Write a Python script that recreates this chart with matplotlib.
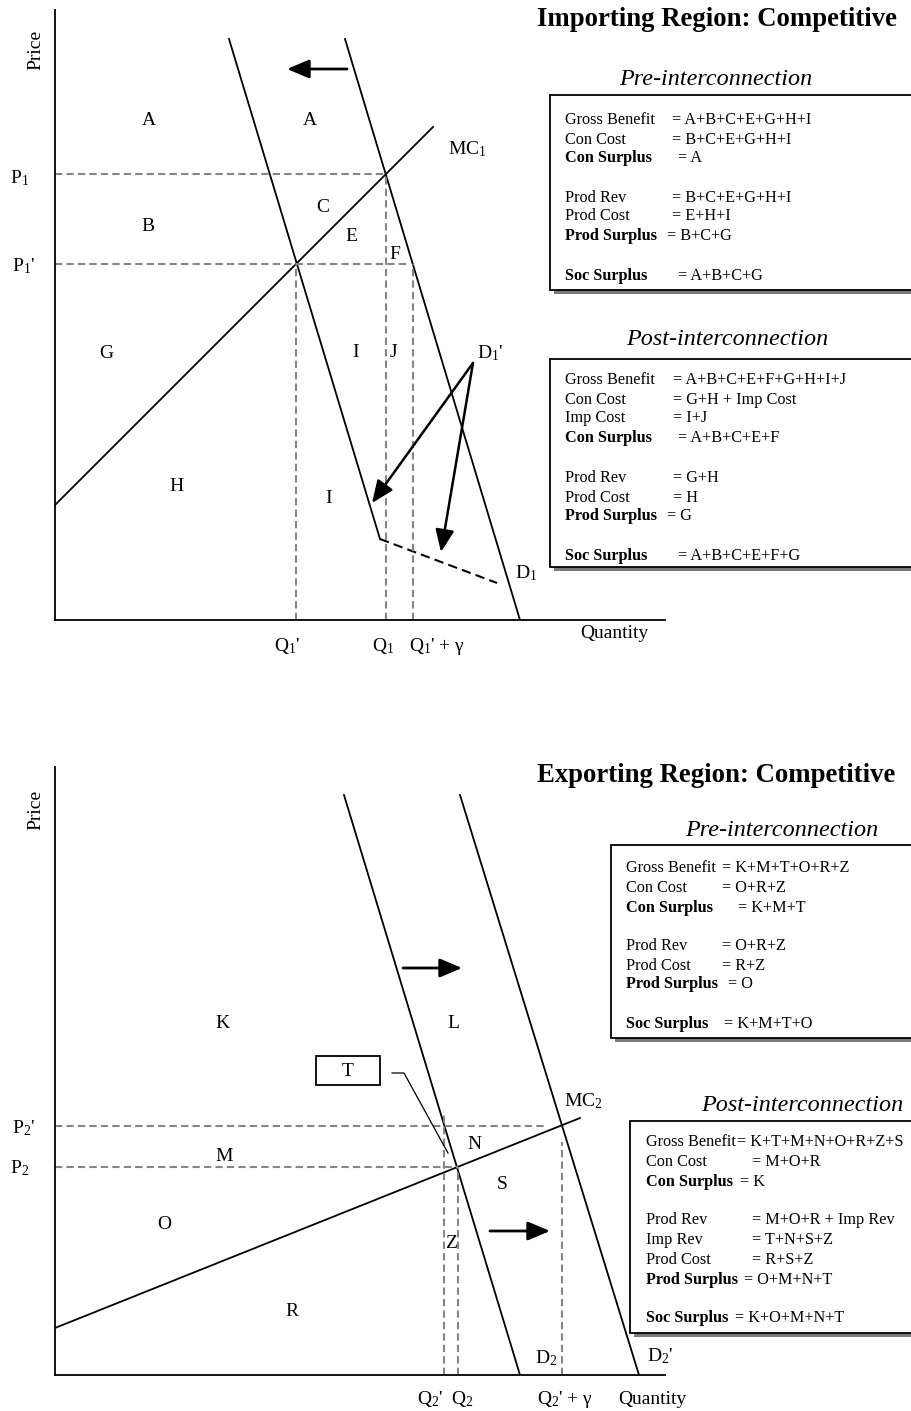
import matplotlib
matplotlib.use('Agg')
import matplotlib.pyplot as plt
from matplotlib.patches import Rectangle

plt.rcParams['font.family'] = ['Liberation Serif', 'DejaVu Serif']
plt.rcParams['mathtext.fontset'] = 'custom'
plt.rcParams['mathtext.rm'] = 'Liberation Serif'
plt.rcParams['mathtext.it'] = 'Liberation Serif:italic'
plt.rcParams['mathtext.bf'] = 'Liberation Serif:bold'

# ---------------- DATA (quantity, price in chart units) ----------------
# Importing region
imp_D1_q = [290, 465]
imp_D1_p = [581, 0]
imp_D1p_q = [174, 325]
imp_D1p_p = [581, 81]
imp_D1p_ext_q = [325, 442]
imp_D1p_ext_p = [81, 37]
imp_MC1_q = [0, 378]
imp_MC1_p = [115, 493]
imp_P1, imp_P1p = 446, 356
imp_Q1, imp_Q1p, imp_Q1pg = 331, 241, 358
imp_P1p_end = 352
imp_shift_q = [292, 232]
imp_shift_p = 551
imp_ptr_from = (418, 257)
imp_ptr_to = [(317, 117), (386, 68)]

# Exporting region
exp_D2_q = [289, 465]
exp_D2_p = [580, 0]
exp_D2p_q = [405, 584]
exp_D2p_p = [580, 0]
exp_MC2_q = [0, 525]
exp_MC2_p = [47, 257]
exp_P2, exp_P2p = 208, 249
exp_Q2, exp_Q2p, exp_Q2pg = 403, 389, 507
exp_P2p_end = 492
exp_Q2p_top, exp_Q2pg_top = 262, 233
exp_shift1_q = [348, 407]
exp_shift1_p = 407
exp_shift2_q = [435, 495]
exp_shift2_p = 144
exp_T_ptr_q = [337, 349, 393]
exp_T_ptr_p = [302, 302, 222]

# Box texts
imp_pre_labels = ["Gross Benefit", "Con Cost", "Con Surplus", "Prod Rev", "Prod Cost", "Prod Surplus", "Soc Surplus"]
imp_pre_values = ["= A+B+C+E+G+H+I", "= B+C+E+G+H+I", "= A", "= B+C+E+G+H+I", "= E+H+I", "= B+C+G", "= A+B+C+G"]
imp_post_labels = ["Gross Benefit", "Con Cost", "Imp Cost", "Con Surplus", "Prod Rev", "Prod Cost", "Prod Surplus", "Soc Surplus"]
imp_post_values = ["= A+B+C+E+F+G+H+I+J", "= G+H + Imp Cost", "= I+J", "= A+B+C+E+F", "= G+H", "= H", "= G", "= A+B+C+E+F+G"]
exp_pre_labels = ["Gross Benefit", "Con Cost", "Con Surplus", "Prod Rev", "Prod Cost", "Prod Surplus", "Soc Surplus"]
exp_pre_values = ["= K+M+T+O+R+Z", "= O+R+Z", "= K+M+T", "= O+R+Z", "= R+Z", "= O", "= K+M+T+O"]
exp_post_labels = ["Gross Benefit", "Con Cost", "Con Surplus", "Prod Rev", "Imp Rev", "Prod Cost", "Prod Surplus", "Soc Surplus"]
exp_post_values = ["= K+T+M+N+O+R+Z+S", "= M+O+R", "= K", "= M+O+R + Imp Rev", "= T+N+S+Z", "= R+S+Z", "= O+M+N+T", "= K+O+M+N+T"]
BOLD = {"Con Surplus", "Prod Surplus", "Soc Surplus"}

# ---------------- FIGURE ----------------
W, H = 912, 1411
fig = plt.figure(figsize=(W / 100, H / 100), dpi=100)
LW = 1.3
GRAY = '#858585'


def panel(x0, y_top, y_bot, x1):
    ax = fig.add_axes([x0 / W, 1 - y_bot / H, (x1 - x0) / W, (y_bot - y_top) / H])
    ax.set_xlim(0, x1 - x0)
    ax.set_ylim(0, y_bot - y_top)
    for s in ['top', 'right']:
        ax.spines[s].set_visible(False)
    for s in ['left', 'bottom']:
        ax.spines[s].set_linewidth(LW)
    ax.set_xticks([])
    ax.set_yticks([])
    ax.patch.set_visible(False)
    return ax


def dash(ax, xs, ys):
    ax.plot(xs, ys, color=GRAY, lw=1.5, ls=(0, (3.5, 2)), clip_on=False)


def arrow(ax, start, end, lw=1.8, ms=15):
    ax.annotate('', xy=end, xytext=start,
                arrowprops=dict(arrowstyle='-|>,head_length=0.9,head_width=0.38',
                                lw=lw, color='black', shrinkA=0, shrinkB=0,
                                mutation_scale=ms))


# ---- top panel ----
ax1 = panel(55, 10, 620, 665)
ax1.plot(imp_D1_q, imp_D1_p, color='black', lw=LW)
ax1.plot(imp_D1p_q, imp_D1p_p, color='black', lw=LW)
ax1.plot(imp_D1p_ext_q, imp_D1p_ext_p, color='black', lw=1.5, ls=(0, (4.5, 2.5)))
ax1.plot(imp_MC1_q, imp_MC1_p, color='black', lw=LW)
dash(ax1, [0, imp_Q1], [imp_P1, imp_P1])
dash(ax1, [0, imp_P1p_end], [imp_P1p, imp_P1p])
dash(ax1, [imp_Q1p, imp_Q1p], [0, imp_P1p])
dash(ax1, [imp_Q1, imp_Q1], [0, imp_P1])
dash(ax1, [imp_Q1pg, imp_Q1pg], [0, imp_P1p])
arrow(ax1, (imp_shift_q[0], imp_shift_p), (imp_shift_q[1], imp_shift_p), lw=2.0, ms=15)
for tgt in imp_ptr_to:
    arrow(ax1, imp_ptr_from, tgt, lw=1.8, ms=15)

# ---- bottom panel ----
ax2 = panel(55, 767, 1375, 665)
ax2.plot(exp_D2_q, exp_D2_p, color='black', lw=LW)
ax2.plot(exp_D2p_q, exp_D2p_p, color='black', lw=LW)
ax2.plot(exp_MC2_q, exp_MC2_p, color='black', lw=LW)
dash(ax2, [0, exp_P2p_end], [exp_P2p, exp_P2p])
dash(ax2, [0, exp_Q2], [exp_P2, exp_P2])
dash(ax2, [exp_Q2p, exp_Q2p], [0, exp_Q2p_top])
dash(ax2, [exp_Q2, exp_Q2], [0, exp_P2])
dash(ax2, [exp_Q2pg, exp_Q2pg], [0, exp_Q2pg_top])
ax2.plot(exp_T_ptr_q, exp_T_ptr_p, color='black', lw=0.9, clip_on=False)
arrow(ax2, (exp_shift1_q[0], exp_shift1_p), (exp_shift1_q[1], exp_shift1_p), lw=2.0, ms=15)
arrow(ax2, (exp_shift2_q[0], exp_shift2_p), (exp_shift2_q[1], exp_shift2_p), lw=2.0, ms=15)

# ---- overlay for text ----
ov = fig.add_axes([0, 0, 1, 1], zorder=5)
ov.set_xlim(0, W)
ov.set_ylim(H, 0)
ov.axis('off')

LFS = 14
BFS = 11.7


def lab(x, y, s, fs=LFS, **kw):
    ov.text(x, y + 0.33 * fs * 1.389, s, fontsize=fs, ha='center', va='baseline', **kw)


top_labels = [(149, 119, 'A'), (310, 119, 'A'), (148, 225, 'B'), (323, 206, 'C'),
              (351, 235, 'E'), (395, 253, 'F'), (106, 352, 'G'), (177, 485, 'H'),
              (356, 351, 'I'), (393, 351, 'J'), (329, 497, 'I'),
              (490, 352, "D$_1$'"), (526, 572, 'D$_1$'), (467, 148, 'MC$_1$'),
              (20, 177, 'P$_1$'), (23, 265, "P$_1$'"),
              (287, 645, "Q$_1$'"), (383, 645, 'Q$_1$'), (437, 645, "Q$_1$' + γ"),
              (614, 632, 'Quantity')]
bot_labels = [(222, 1022, 'K'), (453, 1022, 'L'), (224, 1155, 'M'), (164, 1223, 'O'),
              (292, 1310, 'R'), (474, 1143, 'N'), (502, 1183, 'S'), (451, 1242, 'Z'),
              (546, 1357, 'D$_2$'), (660, 1355, "D$_2$'"), (583, 1100, 'MC$_2$'),
              (23, 1127, "P$_2$'"), (20, 1167, 'P$_2$'), (348, 1070, 'T'),
              (430, 1398, "Q$_2$'"), (462, 1398, 'Q$_2$'), (565, 1398, "Q$_2$' + γ"),
              (652, 1398, 'Quantity')]
for x, y, s in top_labels + bot_labels:
    lab(x, y, s)

ov.text(36, 50, 'Price', fontsize=LFS, rotation=90, ha='center', va='center')
ov.text(36, 810, 'Price', fontsize=LFS, rotation=90, ha='center', va='center')

# T box
ov.add_patch(Rectangle((316, 1056), 64, 29, facecolor='white', edgecolor='black', lw=LW))

# titles
ov.text(537, 20 + 6.5, 'Importing Region: Competitive', fontsize=19.3, fontweight='bold',
        ha='left', va='baseline')
ov.text(537, 775 + 6.5, 'Exporting Region: Competitive', fontsize=19.3, fontweight='bold',
        ha='left', va='baseline')
for cx, cy, s in [(716, 77, 'Pre-interconnection'), (727, 337, 'Post-interconnection'),
                  (782, 828, 'Pre-interconnection'), (802, 1103, 'Post-interconnection')]:
    ov.text(cx, cy + 8, s, fontsize=17.4, style='italic', ha='center', va='baseline')


def box(x, y0, y1, xt, rows_y, eq_x, labels, values):
    ov.add_patch(Rectangle((x + 4, y0 + 4), 400, y1 - y0, facecolor='#7a7a7a', edgecolor='none'))
    ov.add_patch(Rectangle((x, y0), 400, y1 - y0, facecolor='white', edgecolor='black', lw=LW))
    for yy, ex, l, v in zip(rows_y, eq_x, labels, values):
        fw = 'bold' if l in BOLD else 'normal'
        ov.text(xt, yy + 5.5, l, fontsize=BFS, fontweight=fw, ha='left', va='baseline')
        ov.text(ex, yy + 5.5, v, fontsize=BFS, ha='left', va='baseline')


box(550, 95, 290, 565, [119, 138, 157, 196, 215, 235, 275],
    [672, 672, 678, 672, 672, 667, 678], imp_pre_labels, imp_pre_values)
box(550, 359, 567, 565, [378, 398, 417, 437, 476, 496, 515, 555],
    [673, 673, 673, 678, 673, 673, 667, 678], imp_post_labels, imp_post_values)
box(611, 845, 1038, 626, [867, 887, 906, 945, 964, 983, 1022],
    [722, 722, 738, 722, 722, 728, 724], exp_pre_labels, exp_pre_values)
box(630, 1121, 1333, 646, [1140, 1160, 1180, 1218, 1238, 1258, 1279, 1317],
    [737, 752, 740, 752, 752, 752, 744, 735], exp_post_labels, exp_post_values)

fig.savefig('out.png', dpi=100)
